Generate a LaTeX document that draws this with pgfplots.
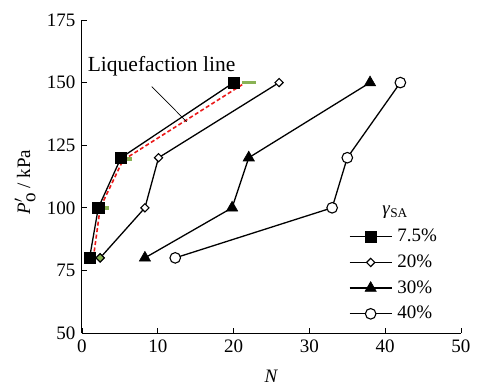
\documentclass[border=0pt]{standalone}
\usepackage{pgfplots}
\pgfplotsset{compat=1.18}
\usepackage{fontspec}
\setmainfont{Liberation Serif}
\definecolor{lgreen}{RGB}{137,178,84}
\definecolor{lred}{RGB}{235,25,25}
\begin{document}
\fontsize{19bp}{22bp}\selectfont
\begin{tikzpicture}
\useasboundingbox (-82bp,-53bp) rectangle (397bp,333bp);
\begin{axis}[
  at={(0,0)}, anchor=south west, scale only axis,
  width=379bp, height=313bp,
  xmin=0, xmax=50, ymin=50, ymax=175,
  axis lines=left, axis line style={-, line width=1bp, black},
  tick align=inside, major tick length=5bp,
  tick style={line width=0.8bp, black},
  xtick={0,10,...,50}, ytick={50,75,...,175},
  font=\fontsize{19bp}{22bp}\selectfont,
  tick label style={font=\fontsize{19bp}{22bp}\selectfont},
  /pgf/number format/assume math mode=true,
  xlabel={\textit{N}},
  ylabel={\textit{P}$'_{\textrm{o}}$ / kPa},
  xlabel style={at={(axis description cs:0.5,-0.138)}, anchor=center, inner sep=0pt},
  ylabel style={at={(axis description cs:-0.150,0.482)}, anchor=center},
  clip=false,
  legend image code/.code={
    \draw[mark repeat=2, mark phase=2, #1] plot coordinates {(0bp,0bp) (21bp,0bp) (42bp,0bp)};
  },
  legend style={draw=none, fill=none, at={(axis cs:35.2,92.0)}, anchor=north west,
    font=\fontsize{19bp}{22bp}\selectfont, row sep=8.2bp, column sep=4bp,
    inner sep=0bp, nodes={inner sep=1bp}},
  legend cell align=left,
]
% green marks
\addplot[lgreen, line width=3.5bp, forget plot] coordinates {(21.1,150) (23.0,150)};
\addplot[lgreen, line width=3.5bp, forget plot] coordinates {(5.7,119.5) (6.6,119.5)};
\addplot[lgreen, line width=3.5bp, forget plot] coordinates {(2.8,100) (3.6,100)};
% red dashed liquefaction line
\addplot[lred, line width=1.6bp, dash pattern=on 4bp off 2.5bp, forget plot]
  coordinates {(1.5,80) (2.4,100) (5.4,119) (21.3,149.5)};
% leader line
\addplot[black, line width=0.7bp, forget plot] coordinates {(9.2,148.4) (13.8,134.4)};
\node[font=\fontsize{21.5bp}{24bp}\selectfont] at (axis cs:10.5,156.6) {Liquefaction line};
% series
\addplot[black, line width=1.3bp, mark=square*, mark size=5.6bp, mark options={fill=black, line width=0.6bp}]
  coordinates {(1,80) (2.15,100) (5.15,120) (20,150)};
\addlegendentry{7.5\%}
\addplot[black, line width=1.3bp, mark=square*, mark size=2.9bp, mark options={fill=white, line width=1.1bp, rotate=45}]
  coordinates {(2.4,80) (8.3,100) (10.1,120) (26,150)};
\addlegendentry{20\%}
\addplot[black, line width=1.3bp, mark=triangle*, mark size=6.5bp, mark options={fill=black, line width=0.6bp}]
  coordinates {(8.3,80) (19.8,100) (22,120) (38,150)};
\addlegendentry{30\%}
\addplot[black, line width=1.3bp, mark=*, mark size=5.3bp, mark options={fill=white, line width=1.1bp}]
  coordinates {(12.3,80) (33,100) (35,120) (42,150)};
\addlegendentry{40\%}
% green-filled diamond
\addplot[only marks, mark=square*, mark size=2.9bp, mark options={fill=lgreen, draw=black, line width=1.1bp, rotate=45}, forget plot]
  coordinates {(2.4,80)};
\node[font=\fontsize{19bp}{22bp}\selectfont] at (axis cs:41.3,98.3) {\textit{γ}\textsubscript{SA}};
\end{axis}
\end{tikzpicture}
\end{document}
